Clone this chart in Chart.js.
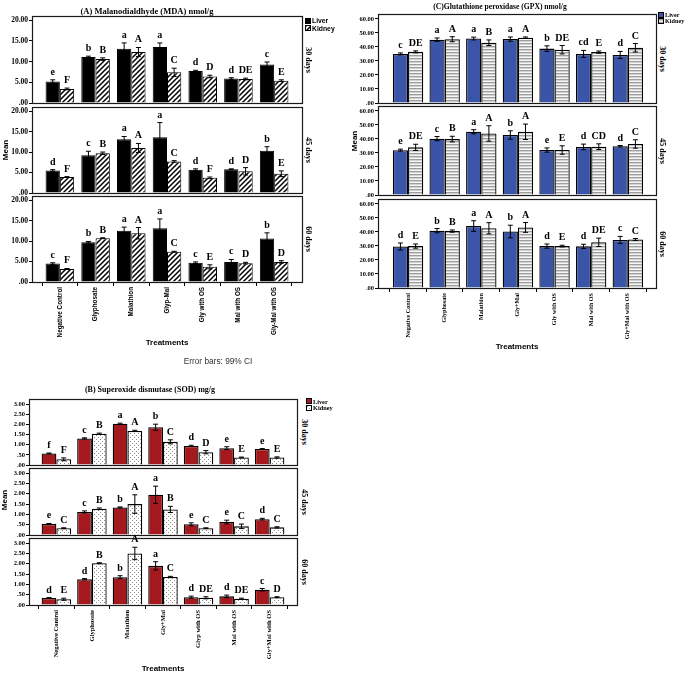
<!DOCTYPE html>
<html>
<head>
<meta charset="utf-8">
<script src="https://cdn.jsdelivr.net/npm/chart.js@4.4.1/dist/chart.umd.min.js"></script>
<style>
  body { margin: 0; background: #fff; }
  #page { position: relative; width: 685px; height: 674px; overflow: hidden; background: #fff; }
  canvas { position: absolute; }
  .lbl { position: absolute; white-space: nowrap; line-height: 1; color: #000; }
  .serif { font-family: "Liberation Serif", "DejaVu Serif", serif; font-weight: bold; }
  .sans { font-family: "Liberation Sans", Arial, sans-serif; font-weight: bold; }
  .plain { font-family: "Liberation Sans", Arial, sans-serif; color: #333; }
  .sw { position: absolute; width: 6px; height: 6px; border: 1px solid #000; box-sizing: border-box; }
</style>
</head>
<body>
<div id="page"></div>
<script>
// treatments (one list per panel, spelled as in the figure)
var treatmentsA = ['Negative Control', 'Glyphosate', 'Malathion', 'Glyp-Mal', 'Gly with OS', 'Mal with OS', 'Gly-Mal with OS'];
var treatmentsB = ['Negative Control', 'Glyphosate', 'Malathion', 'Gly+Mal', 'Glyp with OS', 'Mal with OS', 'Gly+Mal with OS'];
var treatmentsC = ['Negative Control', 'Glyphosate', 'Malathion', 'Gly+Mal', 'Gly with OS', 'Mal with OS', 'Gly+Mal with OS'];
var periods = ['30 days', '45 days', '60 days'];

var mdaTicks = [0, 5, 10, 15, 20];
var sodTicks = [0, 0.5, 1, 1.5, 2, 2.5, 3];
var gpxTicks = [0, 10, 20, 30, 40, 50, 60];

// (A) MDA nmol/g  -- rows: 30, 45, 60 days
var mdaLiver = [
  [5.2, 11.1, 13.1, 13.5, 7.7, 5.9, 9.3],
  [5.5, 9.2, 13.1, 13.6, 5.7, 5.8, 10.3],
  [4.5, 9.7, 12.5, 13.1, 4.7, 4.9, 10.6]
];
var mdaLiverErr = [
  [0.4, 0.2, 1.4, 1.0, 0.2, 0.2, 0.6],
  [0.2, 1.0, 0.7, 3.6, 0.2, 0.1, 1.0],
  [0.2, 0.2, 0.9, 2.3, 0.2, 0.6, 1.4]
];
var mdaKidney = [
  [3.4, 10.6, 12.3, 7.4, 6.4, 5.8, 5.4],
  [3.9, 9.7, 11.0, 7.7, 3.7, 5.3, 4.7],
  [3.2, 10.7, 11.9, 7.4, 3.7, 4.6, 4.9]
];
var mdaKidneyErr = [
  [0.2, 0.3, 1.1, 1.0, 0.3, 0.2, 0.2],
  [0.1, 0.3, 1.1, 0.2, 0.2, 0.9, 0.7],
  [0.1, 0.1, 1.4, 0.1, 0.5, 0.2, 0.3]
];
var mdaLiverLetters = [
  ['e', 'b', 'a', 'a', 'd', 'd', 'c'],
  ['d', 'c', 'a', 'a', 'd', 'd', 'b'],
  ['c', 'b', 'a', 'a', 'c', 'c', 'b']
];
var mdaKidneyLetters = [
  ['F', 'B', 'A', 'C', 'D', 'DE', 'E'],
  ['F', 'B', 'A', 'C', 'F', 'D', 'E'],
  ['F', 'B', 'A', 'C', 'E', 'D', 'D']
];

// (B) SOD mg/g
var sodLiver = [
  [0.57, 1.31, 2.03, 1.86, 0.94, 0.83, 0.79],
  [0.54, 1.12, 1.34, 1.95, 0.52, 0.63, 0.77],
  [0.34, 1.25, 1.35, 1.90, 0.38, 0.42, 0.74]
];
var sodLiverErr = [
  [0.02, 0.03, 0.03, 0.15, 0.03, 0.07, 0.02],
  [0.02, 0.05, 0.02, 0.42, 0.07, 0.09, 0.04],
  [0.02, 0.03, 0.07, 0.20, 0.05, 0.06, 0.06]
];
var sodKidney = [
  [0.28, 1.54, 1.68, 1.14, 0.63, 0.37, 0.37],
  [0.33, 1.27, 1.50, 1.24, 0.33, 0.42, 0.37],
  [0.28, 2.03, 2.50, 1.36, 0.35, 0.30, 0.38]
];
var sodKidneyErr = [
  [0.07, 0.03, 0.03, 0.10, 0.08, 0.02, 0.03],
  [0.02, 0.04, 0.45, 0.15, 0.02, 0.11, 0.03],
  [0.05, 0.02, 0.30, 0.03, 0.05, 0.03, 0.02]
];
var sodLiverLetters = [
  ['f', 'c', 'a', 'b', 'd', 'e', 'e'],
  ['e', 'c', 'b', 'a', 'e', 'e', 'd'],
  ['d', 'd', 'b', 'a', 'd', 'd', 'c']
];
var sodKidneyLetters = [
  ['F', 'B', 'A', 'C', 'D', 'E', 'E'],
  ['C', 'B', 'A', 'B', 'C', 'C', 'C'],
  ['E', 'B', 'A', 'C', 'DE', 'DE', 'D']
];

// (C) GPX nmol/g
var gpxLiver = [
  [35.0, 45.2, 46.0, 45.6, 38.8, 35.0, 34.3],
  [32.0, 40.2, 45.1, 42.8, 32.1, 34.3, 34.8],
  [29.6, 40.9, 44.2, 40.3, 29.9, 29.7, 34.3]
];
var gpxLiverErr = [
  [0.7, 1.2, 1.0, 1.5, 2.0, 2.5, 2.5],
  [0.7, 1.5, 1.5, 3.0, 1.5, 2.0, 0.5],
  [2.5, 1.5, 3.8, 4.5, 1.5, 1.5, 2.5]
];
var gpxKidney = [
  [36.5, 45.5, 43.0, 46.6, 38.0, 36.3, 39.4],
  [34.0, 39.9, 43.9, 45.1, 32.1, 34.5, 36.4],
  [29.9, 40.6, 42.6, 43.2, 29.9, 32.6, 34.6]
];
var gpxKidneyErr = [
  [0.7, 1.8, 2.0, 0.5, 3.0, 0.8, 3.0],
  [2.2, 2.0, 5.5, 5.5, 3.0, 2.0, 3.0],
  [1.5, 0.8, 4.0, 3.5, 0.6, 3.0, 0.7]
];
var gpxLiverLetters = [
  ['c', 'a', 'a', 'a', 'b', 'cd', 'd'],
  ['e', 'c', 'a', 'b', 'e', 'd', 'd'],
  ['d', 'b', 'a', 'b', 'd', 'd', 'c']
];
var gpxKidneyLetters = [
  ['DE', 'A', 'B', 'A', 'DE', 'E', 'C'],
  ['DE', 'B', 'A', 'A', 'E', 'CD', 'C'],
  ['E', 'B', 'A', 'A', 'E', 'DE', 'C']
];

var page = document.getElementById('page');

function makeTile(w, h, draw) {
  var c = document.createElement('canvas');
  c.width = w; c.height = h;
  draw(c.getContext('2d'));
  return c;
}
var hatchTile = makeTile(5, 5, function (g) {
  g.fillStyle = '#fff'; g.fillRect(0, 0, 5, 5);
  g.strokeStyle = '#000'; g.lineWidth = 1.5;
  g.beginPath();
  g.moveTo(-1, 6); g.lineTo(6, -1);
  g.moveTo(-1, 1); g.lineTo(1, -1);
  g.moveTo(4, 6); g.lineTo(6, 4);
  g.stroke();
});
var stripeTile = makeTile(2, 3, function (g) {
  g.fillStyle = '#f6f6f6'; g.fillRect(0, 0, 2, 3);
  g.fillStyle = '#9e9e9e'; g.fillRect(0, 0, 2, 1);
  g.fillStyle = '#d2d2d2'; g.fillRect(0, 1, 2, 1);
});
var dotTile = makeTile(4, 4, function (g) {
  g.fillStyle = '#fff'; g.fillRect(0, 0, 4, 4);
  g.fillStyle = '#8c8c8c'; g.fillRect(0, 0, 1, 1); g.fillRect(2, 2, 1, 1);
});
function pat(tile) { return tile.getContext('2d').createPattern(tile, 'repeat'); }

var panels = [
  { name: '(A) Malanodialdhyde (MDA) nmol/g', left: 0, frameL: 32, frameR: 302,
    frames: [[16, 103], [107, 193], [196, 282]], yMax: 21, yTicks: mdaTicks,
    xMin: -0.78, xMax: 6.78, xh: 56, catPct: 0.8, treatments: treatmentsA,
    liver: mdaLiver, liverErr: mdaLiverErr, liverLetters: mdaLiverLetters,
    kidney: mdaKidney, kidneyErr: mdaKidneyErr, kidneyLetters: mdaKidneyLetters,
    liverFill: '#000', kidneyFill: pat(hatchTile), kidneyTile: hatchTile, borderW: 1,
    xFont: { family: 'Liberation Sans', weight: 'bold', size: 6.3 },
    yFont: { family: 'Liberation Serif', weight: 'bold', size: 7.5 } },
  { name: '(B) Superoxide dismutase (SOD) mg/g', left: 0, frameL: 29, frameR: 297,
    frames: [[399, 465], [468, 535], [538, 605]], yMax: 3.25, yTicks: sodTicks,
    xMin: -0.77, xMax: 6.77, xh: 58, catPct: 0.83, treatments: treatmentsB,
    liver: sodLiver, liverErr: sodLiverErr, liverLetters: sodLiverLetters,
    kidney: sodKidney, kidneyErr: sodKidneyErr, kidneyLetters: sodKidneyLetters,
    liverFill: '#a5191e', kidneyFill: pat(dotTile), kidneyTile: dotTile, borderW: 1.3,
    xFont: { family: 'Liberation Serif', weight: 'bold', size: 6.5 },
    yFont: { family: 'Liberation Serif', weight: 'bold', size: 6.5 } },
  { name: '(C)Glutathione peroxidase (GPX) nmol/g', left: 345, frameL: 378, frameR: 656,
    frames: [[14, 103], [106, 195], [199, 288]], yMax: 63.5, yTicks: gpxTicks,
    xMin: -0.82, xMax: 6.77, xh: 52, catPct: 0.83, treatments: treatmentsC,
    liver: gpxLiver, liverErr: gpxLiverErr, liverLetters: gpxLiverLetters,
    kidney: gpxKidney, kidneyErr: gpxKidneyErr, kidneyLetters: gpxKidneyLetters,
    liverFill: '#3a55a8', kidneyFill: pat(stripeTile), kidneyTile: stripeTile, borderW: 1.3,
    xFont: { family: 'Liberation Serif', weight: 'bold', size: 6.1 },
    yFont: { family: 'Liberation Serif', weight: 'bold', size: 6.5 } }
];

var framePlugin = {
  id: 'frame',
  afterDraw: function (chart) {
    var a = chart.chartArea, ctx = chart.ctx;
    ctx.save();
    ctx.strokeStyle = '#1a1a1a';
    ctx.lineWidth = 1.2;
    ctx.strokeRect(Math.round(a.left) + 0.5, Math.round(a.top) + 0.5,
      Math.round(a.right - a.left), Math.round(a.bottom - a.top));
    ctx.restore();
  }
};

var errorPlugin = {
  id: 'errs',
  afterDatasetsDraw: function (chart) {
    var ctx = chart.ctx, y = chart.scales.y;
    chart.data.datasets.forEach(function (ds, di) {
      var meta = chart.getDatasetMeta(di);
      meta.data.forEach(function (bar, i) {
        var v = ds.data[i].y, e = ds.errs[i];
        var top = y.getPixelForValue(v + e), bot = y.getPixelForValue(v - e);
        ctx.save();
        ctx.strokeStyle = '#000';
        ctx.lineWidth = 1;
        ctx.beginPath();
        ctx.moveTo(bar.x, top); ctx.lineTo(bar.x, bot);
        ctx.moveTo(bar.x - 2.5, top); ctx.lineTo(bar.x + 2.5, top);
        ctx.moveTo(bar.x - 2.5, bot); ctx.lineTo(bar.x + 2.5, bot);
        ctx.stroke();
        ctx.fillStyle = '#000';
        ctx.font = 'bold 10px "Liberation Serif"';
        ctx.textAlign = 'center';
        ctx.textBaseline = 'alphabetic';
        ctx.fillText(ds.letters[i], bar.x, top - 5);
        ctx.restore();
      });
    });
  }
};

function toXY(arr) {
  return arr.map(function (v, i) { return { x: i, y: v }; });
}

function drawSub(p, k) {
  var isBottom = k === p.frames.length - 1;
  var ft = p.frames[k][0], fb = p.frames[k][1];
  var top = ft - 16;
  var padB = isBottom ? 2 : 6;
  var xh = isBottom ? p.xh : 0;
  var cv = document.createElement('canvas');
  cv.width = p.frameR - p.left + 2;
  cv.height = (fb - top) + xh + padB;
  cv.style.left = p.left + 'px';
  cv.style.top = top + 'px';
  page.appendChild(cv);

  new Chart(cv, {
    type: 'bar',
    data: {
      datasets: [
        { label: 'Liver', data: toXY(p.liver[k]), errs: p.liverErr[k], letters: p.liverLetters[k],
          backgroundColor: p.liverFill, borderColor: '#000', borderWidth: p.borderW },
        { label: 'Kidney', data: toXY(p.kidney[k]), errs: p.kidneyErr[k], letters: p.kidneyLetters[k],
          backgroundColor: p.kidneyFill, borderColor: '#000', borderWidth: p.borderW }
      ]
    },
    options: {
      responsive: false,
      animation: false,
      devicePixelRatio: 1,
      layout: { padding: { left: 0, right: 2, top: ft - top, bottom: padB } },
      plugins: { legend: { display: false }, tooltip: { enabled: false } },
      datasets: { bar: { categoryPercentage: p.catPct, barPercentage: 1 } },
      scales: {
        x: {
          type: 'linear', min: p.xMin, max: p.xMax, offset: false, display: isBottom,
          afterBuildTicks: function (s) { s.ticks = p.treatments.map(function (t, i) { return { value: i }; }); },
          afterFit: function (s) { s.height = xh; },
          grid: { drawOnChartArea: false, tickLength: 4, color: '#000' },
          border: { color: '#000' },
          ticks: { autoSkip: false, minRotation: 90, maxRotation: 90, padding: 1, color: '#000',
            font: p.xFont, callback: function (v) { return p.treatments[v]; } }
        },
        y: {
          min: 0, max: p.yMax,
          afterBuildTicks: function (s) { s.ticks = p.yTicks.map(function (v) { return { value: v }; }); },
          afterFit: function (s) { s.width = p.frameL - p.left; },
          grid: { drawOnChartArea: false, tickLength: 3, color: '#000' },
          border: { color: '#000' },
          ticks: { padding: 1, color: '#000', font: p.yFont,
            callback: function (v) { return v.toFixed(2).replace(/^0/, ''); } }
        }
      }
    },
    plugins: [framePlugin, errorPlugin]
  });
}

panels.forEach(function (p) {
  for (var k = 0; k < p.frames.length; k++) drawSub(p, k);
});

// text around the plots
function addLabel(text, x, y, cls, size, rot, leftAlign) {
  var d = document.createElement('div');
  d.className = 'lbl ' + cls;
  d.textContent = text;
  d.style.left = x + 'px';
  d.style.top = y + 'px';
  d.style.fontSize = size + 'px';
  d.style.transform = (leftAlign ? 'translate(0,-50%)' : 'translate(-50%,-50%)') + (rot ? ' rotate(' + rot + 'deg)' : '');
  page.appendChild(d);
}
function addSwatch(x, y, fill, tile) {
  var s = document.createElement('div');
  s.className = 'sw';
  s.style.left = x + 'px';
  s.style.top = y + 'px';
  if (tile) s.style.backgroundImage = 'url(' + tile.toDataURL() + ')';
  else s.style.background = fill;
  page.appendChild(s);
}

addLabel(panels[0].name, 147, 11, 'serif', 8.5);
addLabel(panels[1].name, 150, 390, 'serif', 8);
addLabel(panels[2].name, 500, 7, 'serif', 7.6);

addLabel('Mean', 6, 150, 'sans', 8, -90);
addLabel('Mean', 5, 500, 'sans', 8, -90);
addLabel('Mean', 355, 141, 'sans', 8, -90);

addLabel('Treatments', 167, 343, 'sans', 8);
addLabel('Treatments', 163, 669, 'sans', 8);
addLabel('Treatments', 517, 347, 'sans', 8);
addLabel('Error bars: 99% CI', 218, 361, 'plain', 8.3);

panels.forEach(function (p, pi) {
  var sideX = [308, 304, 662][pi];
  p.frames.forEach(function (f, k) {
    addLabel(periods[k], sideX, (f[0] + f[1]) / 2, 'serif', 8, 90);
  });
});

// legends
addSwatch(305, 18, '#000');
addLabel('Liver', 312, 21, 'sans', 6.8, 0, true);
addSwatch(305, 25, null, hatchTile);
addLabel('Kidney', 312, 28.5, 'sans', 6.8, 0, true);

addSwatch(306, 398, '#a5191e');
addLabel('Liver', 313, 401.5, 'serif', 6.3, 0, true);
addSwatch(306, 405, null, dotTile);
addLabel('Kidney', 313, 408, 'serif', 6.3, 0, true);

addSwatch(658, 12, '#3a55a8');
addLabel('Liver', 665, 15, 'serif', 6.2, 0, true);
addSwatch(658, 18, null, stripeTile);
addLabel('Kidney', 665, 21, 'serif', 6.2, 0, true);
</script>
</body>
</html>
